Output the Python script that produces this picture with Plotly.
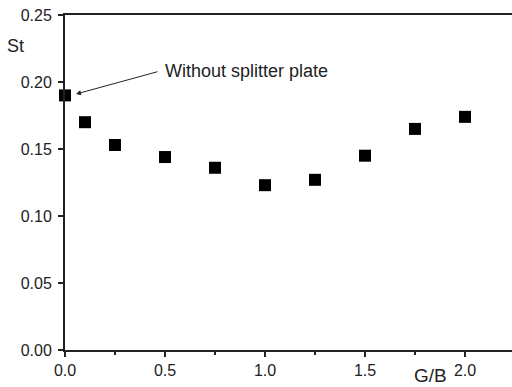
import plotly.graph_objects as go

gb = [0.0, 0.1, 0.25, 0.5, 0.75, 1.0, 1.25, 1.5, 1.75, 2.0]
st = [0.190, 0.170, 0.153, 0.144, 0.136, 0.123, 0.127, 0.145, 0.165, 0.174]

x_ticks = [0.0, 0.5, 1.0, 1.5, 2.0]
x_ticklabels = ["0.0", "0.5", "1.0", "1.5", "2.0"]
y_ticks = [0.00, 0.05, 0.10, 0.15, 0.20, 0.25]
y_ticklabels = ["0.00", "0.05", "0.10", "0.15", "0.20", "0.25"]

font = "Liberation Sans, Arial, sans-serif"
ink = "#222"

fig = go.Figure()
fig.add_trace(go.Scatter(
    x=gb, y=st, mode="markers",
    marker=dict(symbol="square", size=12, color="black", line=dict(width=0)),
    cliponaxis=False, showlegend=False,
))

fig.update_layout(
    width=512, height=387,
    margin=dict(l=65, r=0, t=15, b=37, autoexpand=False),
    paper_bgcolor="white", plot_bgcolor="white",
    font=dict(family=font, size=16, color=ink),
    xaxis=dict(
        range=[0, 2.235], tickvals=x_ticks, ticktext=x_ticklabels,
        ticks="outside", ticklen=5, tickwidth=1.5, tickcolor=ink,
        showline=True, linecolor=ink, linewidth=2, mirror=True,
        showgrid=False, zeroline=False, automargin=False,
        minor=dict(dtick=0.25, ticks="outside", ticklen=3, tickcolor=ink, tickwidth=1.5, showgrid=False),
        tickfont=dict(size=16, family=font, color=ink),
    ),
    yaxis=dict(
        range=[0, 0.25], tickvals=y_ticks, ticktext=y_ticklabels,
        ticks="outside", ticklen=5, tickwidth=1.5, tickcolor=ink,
        showline=True, linecolor=ink, linewidth=2,
        showgrid=False, zeroline=False, automargin=False,
        tickfont=dict(size=16, family=font, color=ink),
        ticklabelstandoff=3,
    ),
)

fig.add_annotation(x=-0.11, y=0.906, xref="paper", yref="paper", text="St", showarrow=False,
                   xanchor="center", yanchor="middle",
                   font=dict(size=18, family=font, color=ink))
fig.add_annotation(x=0.817, y=-0.075, xref="paper", yref="paper", text="G/B", showarrow=False,
                   xanchor="center", yanchor="middle",
                   font=dict(size=19, family=font, color=ink))
fig.add_annotation(x=0.49, y=0.208, xref="x", yref="y", text="Without splitter plate",
                   showarrow=False, xanchor="left", yanchor="middle",
                   font=dict(size=18, family=font, color=ink))
fig.add_annotation(x=0.055, y=0.191, xref="x", yref="y", ax=0.47, ay=0.208,
                   axref="x", ayref="y", text="", showarrow=True,
                   arrowhead=2, arrowsize=1, arrowwidth=1, arrowcolor=ink)

fig.write_html("out.html", config={"displayModeBar": False},
               post_script="document.body.style.margin='0';")
